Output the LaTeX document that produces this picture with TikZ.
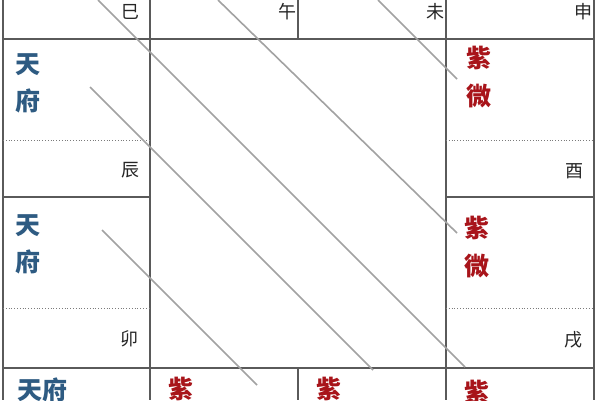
\documentclass[tikz,border=0pt]{standalone}
\usepackage{fontspec}
\newfontfamily\cjk{Noto Sans CJK SC}
\definecolor{gridc}{HTML}{5A5A5A}
\definecolor{diagc}{HTML}{A2A2A2}
\definecolor{starblue}{HTML}{2E5B82}
\definecolor{starred}{HTML}{A8141A}
\begin{document}
\begin{tikzpicture}[x=1pt,y=-1pt,
  gridline/.style={draw=gridc,line width=1.2pt},
  dotline/.style={draw=gridc!80,line width=0.8pt,dotted},
  diag/.style={draw=diagc,line width=1.6pt},
  branch/.style={inner sep=0pt,font=\cjk\fontsize{18}{18}\selectfont,text=black!85},
  bluestar/.style={inner sep=0pt,font=\cjk\bfseries\fontsize{25}{25}\selectfont,text=starblue},
  redstar/.style={inner sep=0pt,font=\cjk\bfseries\fontsize{25}{25}\selectfont,text=starred}]
\useasboundingbox (0,0) rectangle (600,400);
\fill[white] (0,0) rectangle (600,400);
% grid
\draw[gridline] (3,0) -- (3,400);
\draw[gridline] (594,0) -- (594,400);
\draw[gridline] (3,39) -- (594,39);
\draw[gridline] (3,368) -- (594,368);
\draw[gridline] (150,0) -- (150,400);
\draw[gridline] (446,0) -- (446,400);
\draw[gridline] (298,0) -- (298,39);
\draw[gridline] (298,368) -- (298,400);
\draw[gridline] (3,197) -- (150,197);
\draw[gridline] (446,197) -- (594,197);
\draw[dotline] (3,140) -- (150,140);
\draw[dotline] (446,140) -- (594,140);
\draw[dotline] (3,308) -- (150,308);
\draw[dotline] (446,308) -- (594,308);
% diagonals
\coordinate (a1) at (98,0);   \coordinate (b1) at (465,367);
\coordinate (a2) at (218,0);  \coordinate (b2) at (457,233);
\coordinate (a3) at (378,0);  \coordinate (b3) at (457,79);
\coordinate (a4) at (90,87);  \coordinate (b4) at (373,370);
\coordinate (a5) at (102,230);\coordinate (b5) at (257,385);
\draw[diag] (a1) -- (b1);
\draw[diag] (a2) -- (b2);
\draw[diag] (a3) -- (b3);
\draw[diag] (a4) -- (b4);
\draw[diag] (a5) -- (b5);
% branch labels
\node[branch] (si) at (130,12) {巳};
\node[branch] (wu) at (287,12) {午};
\node[branch] (wei) at (435,12) {未};
\node[branch] (shen) at (583,12) {申};
\node[branch] (chen) at (130,170) {辰};
\node[branch] (you) at (574,171) {酉};
\node[branch] (mao) at (129,339) {卯};
\node[branch] (xu) at (573,340) {戌};
% stars
\node[bluestar] (t1) at (28,65) {天};
\node[bluestar] (f1) at (28,101) {府};
\node[bluestar] (t2) at (28,226) {天};
\node[bluestar] (f2) at (28,262) {府};
\node[bluestar] (tf3) at (42,390) {天府};
\node[redstar] (z1) at (479,58) {紫};
\node[redstar] (w1) at (479,96) {微};
\node[redstar] (z2) at (477,228) {紫};
\node[redstar] (w2) at (477,266) {微};
\node[redstar] (z3) at (181,389) {紫};
\node[redstar] (z4) at (329,389) {紫};
\node[redstar] (z5) at (477,392) {紫};
\end{tikzpicture}
\end{document}
